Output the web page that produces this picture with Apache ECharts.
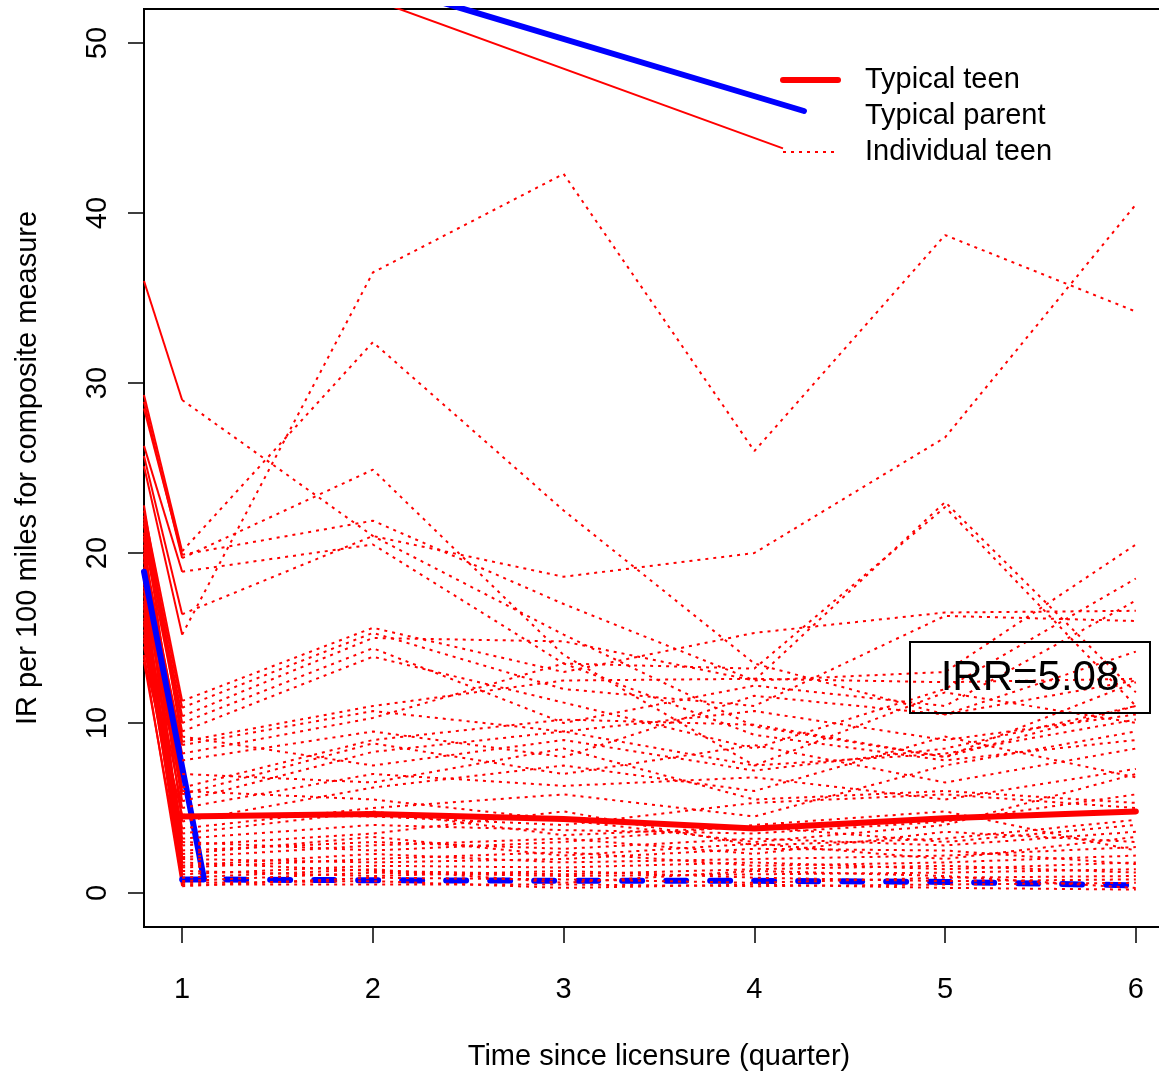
<!DOCTYPE html>
<html lang="en">
<head>
    <meta charset="UTF-8">
    <title>IR per 100 miles</title>
    <style>
        html, body { margin: 0; padding: 0; background: #fff; overflow: hidden; }
        /* plot box runs past the right edge of the picture, so the chart is wider than the window */
        #chart { width: 1190px; height: 1076px; }
    </style>
</head>
<body>
<div id="chart"></div>
<script src="https://cdn.jsdelivr.net/npm/echarts@6/dist/echarts.min.js"></script>
<script>
    // quarters since licensure
    var quarters = [1, 2, 3, 4, 5, 6]
    var yTicks = [0, 10, 20, 30, 40, 50]

    var typicalTeen = [4.5, 4.65, 4.35, 3.8, 4.4, 4.8]
    var typicalParent = [0.8, 0.75, 0.72, 0.72, 0.65, 0.45]
    // solid blue piece coming in from the left edge
    var parentLeadIn = [[0.8, 18.9], [1.115, 0.8]]

    // leader lines running into the legend
    var parentLeader = [[2.0, 53.6], [4.26, 46.0]]
    var teenLeader = [[1.5, 54.6], [4.15, 43.8]]

    // individual teens, quarter 1..6
    var teens = [
        [15.2, 36.5, 42.3, 26.0, 38.7, 34.2],
        [20.1, 32.4, 22.5, 13.5, 10.5, 12.5],
        [29.0, 21.0, 15.2, 9.8, 8.0, 11.0],
        [19.7, 24.9, 14.0, 7.5, 8.2, 10.2],
        [16.4, 21.0, 18.6, 20.0, 26.8, 40.5],
        [19.9, 21.9, 17.0, 12.5, 23.0, 11.8],
        [18.9, 20.5, 13.5, 13.2, 22.7, 11.0],
        [11.3, 15.6, 13.0, 15.3, 16.5, 16.6],
        [10.9, 15.3, 12.0, 11.0, 16.3, 16.0],
        [10.4, 15.0, 14.8, 12.5, 13.0, 20.5],
        [10.0, 14.4, 10.0, 12.2, 11.0, 17.2],
        [9.5, 13.9, 11.2, 8.5, 12.0, 18.5],
        [8.9, 11.0, 12.5, 12.6, 12.4, 12.6],
        [8.7, 10.7, 9.5, 10.7, 9.0, 10.5],
        [8.2, 10.3, 13.5, 9.3, 7.8, 9.0],
        [7.8, 9.5, 8.0, 11.6, 10.5, 14.2],
        [6.2, 9.0, 10.2, 9.9, 8.0, 12.4],
        [5.8, 8.8, 7.0, 8.7, 6.5, 8.5],
        [5.4, 8.3, 9.5, 7.5, 11.8, 10.0],
        [5.0, 7.0, 6.3, 6.8, 5.5, 7.3],
        [4.2, 6.2, 7.5, 6.0, 9.2, 6.8],
        [3.8, 5.0, 5.8, 4.5, 7.5, 9.5],
        [3.2, 4.0, 3.7, 3.5, 4.2, 5.8],
        [2.8, 3.5, 4.8, 2.8, 3.2, 4.3],
        [2.5, 3.0, 2.6, 3.2, 2.8, 3.6],
        [2.1, 2.8, 3.2, 2.3, 3.6, 3.0],
        [1.6, 2.3, 1.8, 2.0, 2.2, 2.7],
        [1.5, 2.0, 2.4, 1.6, 1.8, 2.2],
        [1.1, 1.6, 1.5, 1.8, 1.4, 1.8],
        [0.7, 1.2, 1.0, 1.1, 1.2, 1.4],
        [0.4, 0.9, 0.8, 0.6, 0.9, 1.0],
        [0.5, 0.5, 0.5, 0.4, 0.5, 0.6],
        [1.3, 1.0, 1.3, 0.9, 0.7, 0.8],
        [0.9, 1.4, 0.6, 1.3, 1.0, 0.3],
        [2.0, 1.8, 2.0, 2.6, 2.5, 1.7],
        [3.0, 2.5, 3.0, 4.0, 4.8, 2.5],
        [4.6, 4.5, 4.0, 5.3, 5.8, 5.0],
        [6.0, 5.5, 4.3, 3.0, 4.0, 7.0],
        [7.0, 6.5, 8.5, 5.5, 6.0, 5.3],
        [9.2, 7.5, 9.0, 7.2, 8.5, 11.0],
        [0.6, 0.7, 0.3, 0.5, 0.3, 0.2],
        [1.8, 1.3, 1.1, 1.4, 1.6, 1.2],
        [2.3, 3.3, 2.2, 2.9, 2.0, 3.3],
        [3.5, 4.8, 3.4, 3.9, 3.0, 4.0]
    ]
    // value where each teen's solid lead-in crosses the left edge (x = 0.8)
    var teenLeftEdge = [
        25.1, 29.3, 36.0, 28.9, 25.7, 28.5, 26.3, 22.5, 22.0, 21.6,
        21.2, 20.8, 22.2, 19.5, 20.2, 18.0, 21.8, 17.5, 19.0, 16.5,
        20.5, 15.8, 18.5, 14.5, 17.0, 21.0, 15.0, 19.8, 13.6, 16.0,
        14.0, 18.2, 17.8, 20.0, 16.8, 15.5, 13.8, 19.2, 14.8, 22.8,
        17.2, 15.2, 18.8, 16.2
    ]

    var RED = '#ff0000'
    var BLUE = '#0000ff'
    var FONT = '"Liberation Sans", Arial, Helvetica, sans-serif'

    function pairs(vals) {
        return quarters.map(function (q, i) { return [q, vals[i]] })
    }

    var series = []

    // lead-ins drawn first, solid thin red
    teens.forEach(function (t, i) {
        series.push({
            name: 'lead' + i,
            type: 'line',
            symbol: 'none',
            silent: true,
            data: [[0.8, teenLeftEdge[i]], [1, t[0]]],
            lineStyle: {color: RED, width: 2},
            z: 2
        })
    })

    series.push({
        name: 'parentLead',
        type: 'line',
        symbol: 'none',
        silent: true,
        data: parentLeadIn,
        lineStyle: {color: BLUE, width: 6, cap: 'round'},
        z: 3
    })
    series.push({
        name: 'Typical parent',
        type: 'line',
        symbol: 'none',
        silent: true,
        data: pairs(typicalParent),
        lineStyle: {color: BLUE, width: 6, type: [20, 24], cap: 'round'},
        z: 3
    })

    teens.forEach(function (t) {
        series.push({
            name: 'Individual teen',
            type: 'line',
            symbol: 'none',
            silent: true,
            data: pairs(t),
            lineStyle: {color: RED, width: 2, type: [3, 5]},
            z: 4
        })
    })

    series.push({
        name: 'Typical teen',
        type: 'line',
        symbol: 'none',
        silent: true,
        data: pairs(typicalTeen),
        lineStyle: {color: RED, width: 6, cap: 'round'},
        z: 5
    })

    series.push({
        name: 'teenLeader',
        type: 'line',
        symbol: 'none',
        silent: true,
        data: teenLeader,
        lineStyle: {color: RED, width: 2},
        z: 5
    })
    series.push({
        name: 'parentLeader',
        type: 'line',
        symbol: 'none',
        silent: true,
        data: parentLeader,
        lineStyle: {color: BLUE, width: 6, cap: 'round'},
        z: 5
    })

    var chart = echarts.init(document.getElementById('chart'), null, {renderer: 'canvas'})
    chart.setOption({
        animation: false,
        backgroundColor: '#fff',
        textStyle: {fontFamily: FONT},
        grid: {
            left: 144, top: 9, right: 16, bottom: 146,
            show: true, borderColor: '#000', borderWidth: 2, backgroundColor: 'transparent'
        },
        legend: {
            orient: 'vertical',
            left: 780,
            top: 62,
            padding: 0,
            itemWidth: 55,
            itemHeight: 14,
            itemGap: 0,
            selectedMode: false,
            itemStyle: {opacity: 0},
            textStyle: {fontSize: 29, lineHeight: 24, color: '#000', fontFamily: FONT, padding: [12, 0, 0, 22]},
            data: [
                {name: 'Typical teen', lineStyle: {width: 6, cap: 'round'}},
                {name: 'Typical parent', lineStyle: {opacity: 0}},
                {name: 'Individual teen', lineStyle: {width: 2, type: [3, 5]}}
            ]
        },
        xAxis: {
            type: 'value',
            min: 0.8,
            max: 6.2,
            name: 'Time since licensure (quarter)',
            nameLocation: 'middle',
            nameGap: 115,
            nameTextStyle: {fontSize: 29, color: '#000', fontFamily: FONT},
            axisLine: {show: false, onZero: false},
            splitLine: {show: false},
            axisTick: {show: true, length: 16, customValues: quarters, lineStyle: {color: '#000', width: 1.5}},
            axisLabel: {customValues: quarters, margin: 48, fontSize: 29, color: '#000', fontFamily: FONT}
        },
        yAxis: {
            type: 'value',
            min: -2,
            max: 52,
            name: 'IR per 100 miles for composite measure',
            nameLocation: 'middle',
            nameGap: 102,
            nameTextStyle: {fontSize: 29, color: '#000', fontFamily: FONT},
            axisLine: {show: false, onZero: false},
            splitLine: {show: false},
            axisTick: {show: true, length: 16, customValues: yTicks, lineStyle: {color: '#000', width: 1.5}},
            axisLabel: {customValues: yTicks, rotate: 90, margin: 32, fontSize: 29, color: '#000', fontFamily: FONT}
        },
        graphic: [
            {
                type: 'rect',
                z: 100,
                shape: {x: 910, y: 642, width: 240, height: 71},
                style: {fill: 'none', stroke: '#000', lineWidth: 2}
            },
            {
                type: 'text',
                z: 100,
                x: 1030,
                y: 678,
                style: {
                    text: 'IRR=5.08', fontSize: 42, fontFamily: FONT, fill: '#000',
                    align: 'center', verticalAlign: 'middle'
                }
            }
        ],
        series: series
    })
</script>
</body>
</html>
